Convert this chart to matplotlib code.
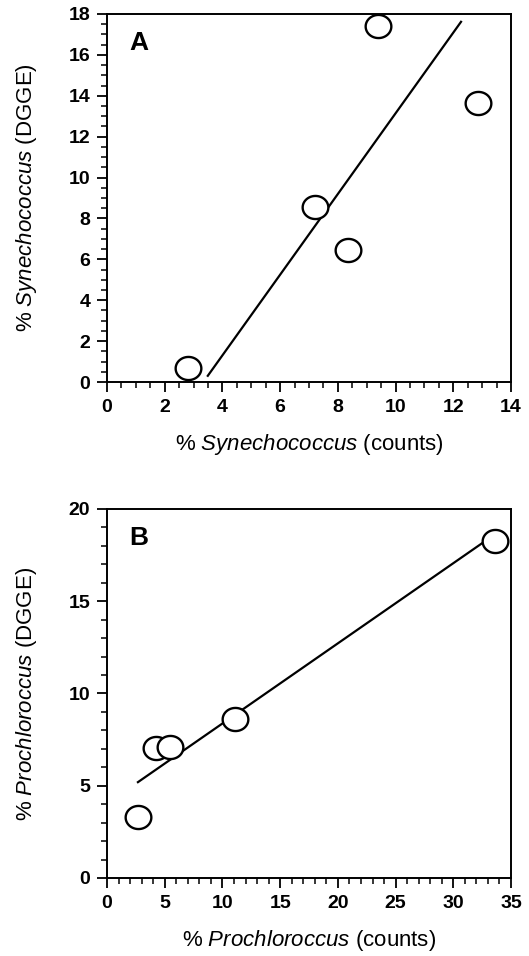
import numpy as np
import matplotlib
matplotlib.use('Agg')
import matplotlib.pyplot as plt
from matplotlib.path import Path
from matplotlib.ticker import MultipleLocator

plt.rcParams['font.family'] = ['Liberation Sans', 'DejaVu Sans']
# keep the italic genus names in the same face as the rest of the label
plt.rcParams['mathtext.fontset'] = 'custom'
plt.rcParams['mathtext.rm'] = 'Liberation Sans'
plt.rcParams['mathtext.it'] = 'Liberation Sans:italic'
plt.rcParams['mathtext.bf'] = 'Liberation Sans:bold'

# --- DATA -------------------------------------------------------------------
syn_counts = [2.8, 7.2, 8.36, 9.4, 12.87]
syn_dgge = [0.67, 8.58, 6.46, 17.43, 13.63]
syn_fit_x = [3.47, 12.29]
syn_fit_y = [0.26, 17.66]

pro_counts = [2.66, 4.22, 5.49, 11.1, 33.64]
pro_dgge = [3.31, 7.02, 7.11, 8.62, 18.28]
pro_fit_x = [2.6, 32.6]
pro_fit_y = [5.16, 18.19]

# slightly flattened open circle, like the original symbols
t = np.linspace(0, 2 * np.pi, 60)
ellipse = Path(np.column_stack([np.cos(t), 0.9 * np.sin(t)]), closed=True)


def style_axes(ax, xmax, ymax, xmaj, xmin, ymaj, ymin):
    ax.set_xlim(0, xmax)
    ax.set_ylim(0, ymax)
    ax.xaxis.set_major_locator(MultipleLocator(xmaj))
    ax.xaxis.set_minor_locator(MultipleLocator(xmin))
    ax.yaxis.set_major_locator(MultipleLocator(ymaj))
    ax.yaxis.set_minor_locator(MultipleLocator(ymin))
    ax.tick_params(which='major', direction='out', length=7.5, width=1.3,
                   labelsize=14, pad=4.5)
    ax.tick_params(which='minor', direction='out', length=4, width=1.1)
    for lab in ax.get_xticklabels() + ax.get_yticklabels():
        lab.set_fontweight('bold')
    for sp in ax.spines.values():
        sp.set_linewidth(1.4)


def draw_panel(ax, x, y, fx, fy, letter):
    ax.plot(fx, fy, color='black', lw=1.6, solid_capstyle='butt')
    ax.plot(x, y, linestyle='none', marker=ellipse, ms=18.5, mfc='white',
            mec='black', mew=1.7, zorder=3)
    ax.text(0.055, 0.955, letter, transform=ax.transAxes, fontsize=19,
            fontweight='bold', ha='left', va='top')


fig = plt.figure(figsize=(5.29, 9.56), dpi=100)

# Panel A
ax1 = fig.add_axes([0.2023, 0.6004, 0.7637, 0.385])
draw_panel(ax1, syn_counts, syn_dgge, syn_fit_x, syn_fit_y, 'A')
style_axes(ax1, 14, 18, 2, 0.5, 2, 0.5)
ax1.set_xlabel('% $\\mathit{Synechococcus}$ (counts)', fontsize=16, labelpad=12)
ax1.set_ylabel('% $\\mathit{Synechococcus}$ (DGGE)', fontsize=16, labelpad=21)

# Panel B
ax2 = fig.add_axes([0.2023, 0.0816, 0.7637, 0.386])
draw_panel(ax2, pro_counts, pro_dgge, pro_fit_x, pro_fit_y, 'B')
style_axes(ax2, 35, 20, 5, 1, 5, 1)
ax2.set_xlabel('% $\\mathit{Prochloroccus}$ (counts)', fontsize=16, labelpad=12)
ax2.set_ylabel('% $\\mathit{Prochloroccus}$ (DGGE)', fontsize=16, labelpad=21)

fig.savefig('out.png', dpi=100)
